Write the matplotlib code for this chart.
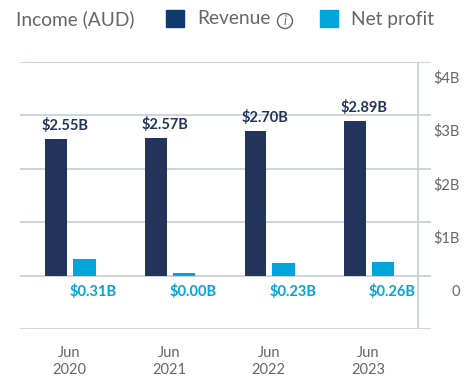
import matplotlib
matplotlib.use("Agg")
import matplotlib.pyplot as plt
from matplotlib.patches import Rectangle, Circle

plt.rcParams['font.family'] = ['Lato', 'DejaVu Sans']

W, H = 473, 384
periods = ['Jun\n2020', 'Jun\n2021', 'Jun\n2022', 'Jun\n2023']
revenue = [2.55, 2.57, 2.70, 2.89]
net_profit = [0.31, 0.05, 0.24, 0.26]
revenue_labels = ['$2.55B', '$2.57B', '$2.70B', '$2.89B']
profit_labels = ['$0.31B', '$0.00B', '$0.23B', '$0.26B']
grid_values = [-1, 0, 1, 2, 3, 4]
axis_values = [0, 1, 2, 3, 4]
axis_labels = ['0', '$1B', '$2B', '$3B', '$4B']

NAVY = '#22345a'
BLUE = '#00a5dc'
GRID = '#c9d1d9'
GREY = '#666666'

fig = plt.figure(figsize=(W / 100, H / 100), dpi=100)
ax = fig.add_axes([20 / W, 1 - 329 / H, 411 / W, 267 / H])
ax.set_xlim(-0.497, 3.630)
ax.set_ylim(-1, 4)

x = list(range(len(periods)))
ax.bar([i - 0.132 for i in x], revenue, width=0.22, color=NAVY, zorder=2)
ax.bar([i + 0.15 for i in x], net_profit, width=0.225, color=BLUE, zorder=2)

for v in grid_values:
    ax.axhline(v, color=GRID, lw=1.3, zorder=1)
ax.axvline(3.499, color=GRID, lw=1.3, zorder=1)

for i in x:
    ax.annotate(revenue_labels[i], (i - 0.132, revenue[i]), xytext=(9, 14),
                textcoords='offset pixels', ha='center', va='center',
                color=NAVY, fontsize=10.5, fontweight='bold')
    ax.annotate(profit_labels[i], (i + 0.15, 0), xytext=(9, -16),
                textcoords='offset pixels', ha='center', va='center',
                color=BLUE, fontsize=10.5, fontweight='bold')

for v, lab in zip(axis_values, axis_labels):
    ax.annotate(lab, (1, v), xycoords=('axes fraction', 'data'), xytext=(29, -16),
                textcoords='offset pixels', ha='right', va='center',
                color=GREY, fontsize=10.5)

ax.set_xticks(x)
ax.set_xticklabels(periods, color=GREY, fontsize=10.5, linespacing=1.3)
ax.tick_params(axis='x', length=0, pad=12)
ax.set_yticks([])
for s in ax.spines.values():
    s.set_visible(False)

# legend row on top, placed in pixels
def px(a, b):
    return a / W, 1 - b / H

fig.text(*px(16, 19), 'Income (AUD)', color=GREY, fontsize=13.8, va='center')
fig.text(*px(197, 19), 'Revenue', color=GREY, fontsize=13.8, va='center')
fig.text(*px(351, 19), 'Net profit', color=GREY, fontsize=13.8, va='center')
fig.add_artist(Rectangle(px(166, 27), 18 / W, 17 / H, color='#0f3a6e', transform=fig.transFigure))
fig.add_artist(Rectangle(px(320, 27), 18 / W, 17 / H, color=BLUE, transform=fig.transFigure))
fig.add_artist(Circle((285, H - 21), 7.5, fill=False, ec=GREY, lw=1, transform=None))
fig.text(*px(285, 21), 'i', color=GREY, fontsize=9, style='italic', ha='center', va='center')

fig.savefig('out.png', dpi=100)
